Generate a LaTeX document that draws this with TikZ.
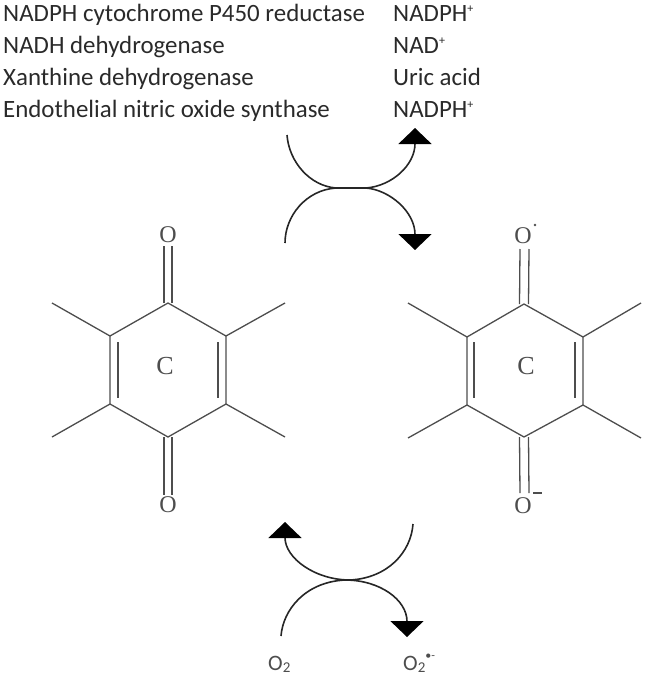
\documentclass[tikz,border=0pt]{standalone}
\usepackage{fontspec}
\setmainfont{Carlito}
\newfontfamily\chemfont{Liberation Serif}
\usetikzlibrary{arrows.meta}
\definecolor{ink}{HTML}{2A2A2A}
\definecolor{bond}{HTML}{4D4D4D}
\newcommand{\supr}[1]{\raisebox{0.36em}{\fontsize{12}{12}\selectfont #1}}
\newcommand{\supd}[1]{\raisebox{0.5em}{\fontsize{12}{12}\selectfont #1}}
\newcommand{\subr}[1]{\raisebox{-0.1em}{\fontsize{15}{15}\selectfont #1}}
\tikzset{
  x=1pt,y=-1pt,
  lab/.style={anchor=base west,inner sep=0pt,font=\fontsize{24.9}{28}\selectfont,text=ink},
  small/.style={anchor=base west,inner sep=0pt,font=\fontsize{22}{24}\selectfont,text=bond},
  atom/.style={inner sep=0pt,font=\chemfont\fontsize{24}{26}\selectfont,text=bond},
  ringc/.style={inner sep=0pt,font=\chemfont\fontsize{26}{28}\selectfont,text=bond},
  bondl/.style={draw=bond,line width=1.3pt},
  curved/.style={draw=black!85,line width=1.6pt,-{Triangle[width=33pt,length=16pt,color=black]}},
}
\begin{document}
\begin{tikzpicture}
\useasboundingbox (0,0) rectangle (646,675);
% texts
\node[lab] (t1) at (3,21) {NADPH cytochrome P450 reductase};
\node[lab] (t2) at (3,53) {NADH dehydrogenase};
\node[lab] (t3) at (3,85) {Xanthine dehydrogenase};
\node[lab] (t4) at (3,117) {Endothelial nitric oxide synthase};
\node[lab] (p1) at (393,21) {NADPH\supr{+}};
\node[lab] (p2) at (393,53) {NAD\supr{+}};
\node[lab] (p3) at (393,85) {Uric acid};
\node[lab] (p4) at (393,117) {NADPH\supr{+}};
% left ring
\coordinate (a1) at (168,303); \coordinate (a2) at (226,336); \coordinate (a3) at (226,404);
\coordinate (a4) at (168,437); \coordinate (a5) at (110,404); \coordinate (a6) at (110,336);
\draw[bondl] (a1)--(a2)--(a3)--(a4)--(a5)--(a6)--cycle;
\coordinate (as1) at (285,303); \coordinate (as2) at (285,437); \coordinate (as3) at (52,437); \coordinate (as4) at (52,303);
\draw[bondl] (a2)--(as1) (a3)--(as2) (a5)--(as3) (a6)--(as4);
\coordinate (ai1) at (118,342); \coordinate (ai2) at (118,398); \coordinate (ai3) at (218,342); \coordinate (ai4) at (218,398);
\draw[bondl] (ai1)--(ai2) (ai3)--(ai4);
\node[atom] (aO1) at (168,235) {O};
\node[atom] (aO2) at (168,505) {O};
\node[ringc] (aC) at (165,366) {C};
\coordinate (ae1) at (168,246); \coordinate (ae2) at (168,495);
\draw[bondl] ([xshift=-4pt]a1)--([xshift=-4pt]ae1);
\draw[bondl] ([xshift=4pt]a1)--([xshift=4pt]ae1);
\draw[bondl] ([xshift=-4pt]a4)--([xshift=-4pt]ae2);
\draw[bondl] ([xshift=4pt]a4)--([xshift=4pt]ae2);
% right ring
\coordinate (b1) at (524,304); \coordinate (b2) at (583,337); \coordinate (b3) at (583,405);
\coordinate (b4) at (524,437); \coordinate (b5) at (467,405); \coordinate (b6) at (467,337);
\draw[bondl] (b1)--(b2)--(b3)--(b4)--(b5)--(b6)--cycle;
\coordinate (bs1) at (641,303); \coordinate (bs2) at (641,438); \coordinate (bs3) at (408,438); \coordinate (bs4) at (408,303);
\draw[bondl] (b2)--(bs1) (b3)--(bs2) (b5)--(bs3) (b6)--(bs4);
\coordinate (bi1) at (474,342); \coordinate (bi2) at (474,398); \coordinate (bi3) at (575,342); \coordinate (bi4) at (575,398);
\draw[bondl] (bi1)--(bi2) (bi3)--(bi4);
\node[atom] (bO1) at (523,236) {O};
\node[atom] (bO2) at (523,506) {O};
\node[ringc] (bC) at (526,366) {C};
\coordinate (be1) at (524.5,249); \coordinate (be2) at (524.5,493);
\draw[bondl] ([xshift=-4.5pt]b1)--([xshift=-4.5pt]be1);
\draw[bondl] ([xshift=4.5pt]b1)--([xshift=4.5pt]be1);
\draw[bondl] ([xshift=-4.5pt]b4)--([xshift=-4.5pt]be2);
\draw[bondl] ([xshift=4.5pt]b4)--([xshift=4.5pt]be2);
\fill[bond] (535,225) circle (1.3pt);
\draw[bond,line width=1.5pt] (533,493)--(542,493);
% top arrows
\coordinate (c1) at (287,135); \coordinate (c2) at (285,243); \coordinate (c3) at (336,188);
\coordinate (c4) at (366,188); \coordinate (c5) at (415,128); \coordinate (c6) at (415,250);
\draw[curved] (c1) .. controls (289,162) and (310,186) .. (c3) -- (c4) .. controls (392,186) and (415,165) .. (c5);
\draw[curved] (c2) .. controls (285,216) and (306,190) .. (c3) -- (c4) .. controls (390,190) and (415,212) .. (c6);
% bottom arrows
\coordinate (d1) at (413,524); \coordinate (d2) at (285,522); \coordinate (d3) at (281,636);
\coordinate (d4) at (407,637); \coordinate (d5) at (345,580); \coordinate (d6) at (350,580);
\draw[curved] (d1) .. controls (411,552) and (388,578) .. (d6) .. controls (315,580) and (285,558) .. (d2);
\draw[curved] (d3) .. controls (283,610) and (305,582) .. (d5) .. controls (380,580) and (407,600) .. (d4);
\node[small] (o1) at (268,670) {O\subr{2}};
\node[small] (o2) at (403,670) {O\subr{2}\supd{•-}};
\end{tikzpicture}
\end{document}
